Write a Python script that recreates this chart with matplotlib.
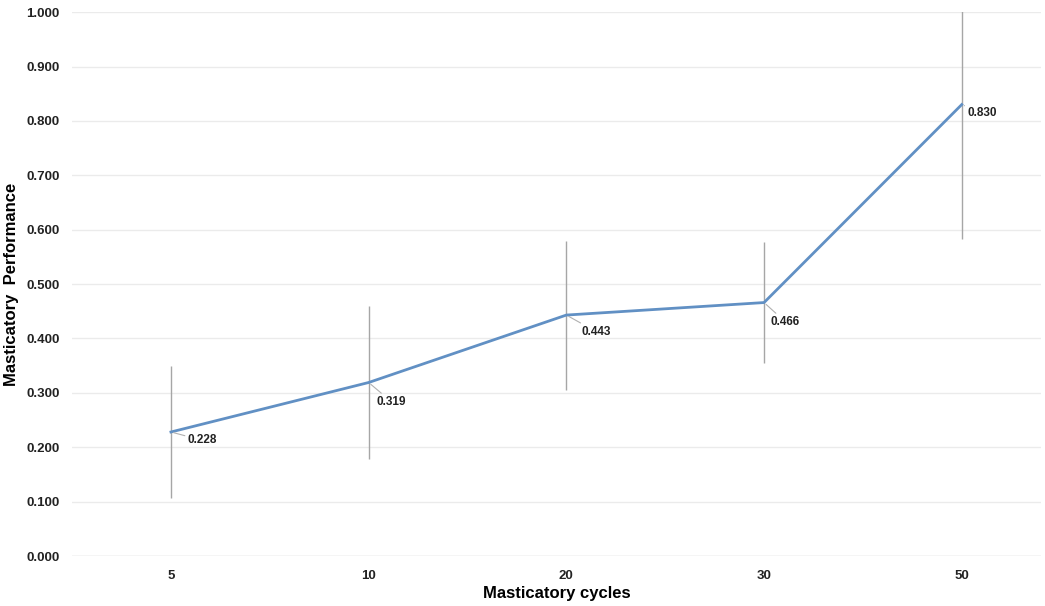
import matplotlib
matplotlib.use("Agg")
import matplotlib.pyplot as plt

plt.rcParams['font.family'] = ['Liberation Sans', 'DejaVu Sans']

categories = ["5", "10", "20", "30", "50"]
means = [0.228, 0.319, 0.443, 0.466, 0.830]
sd = [0.122, 0.140, 0.137, 0.111, 0.247]
label_offsets = [(12, -6), (6, -14), (11, -12), (5, -14), (4, -6)]

fig = plt.figure(figsize=(10.45, 6.06), dpi=100)
ax = fig.add_axes([0.069, 0.0825, 0.927, 0.8975])

x = list(range(len(categories)))
ax.errorbar(x, means, yerr=sd, fmt='none', ecolor='#a6a6a6', elinewidth=1.0, capsize=0, zorder=2)
ax.plot(x, means, color='#6190C4', linewidth=2.0, zorder=3)

for xi, m, off in zip(x, means, label_offsets):
    ax.annotate(f"{m:.3f}", xy=(xi, m), xytext=off, textcoords='offset points',
                fontsize=8.5, fontweight='bold', color='#222222', ha='left', va='center',
                arrowprops=dict(arrowstyle='-', color='#b0b0b0', lw=0.8, shrinkA=0, shrinkB=2))

ax.set_ylim(0, 1.0)
ax.set_xlim(-0.5, 4.4)
ax.set_yticks([i / 10 for i in range(11)])
ax.set_yticklabels([f"{i/10:.3f}" for i in range(11)], fontsize=9.5, fontweight='bold', color='#222222')
ax.set_xticks(x)
ax.set_xticklabels(categories, fontsize=9.5, fontweight='bold', color='#222222')
ax.tick_params(length=0)
ax.tick_params(axis='y', pad=9)
ax.tick_params(axis='x', pad=10)
ax.grid(axis='y', color='#ebebeb', linewidth=1.0, zorder=0)
ax.set_axisbelow(True)
for s in ax.spines.values():
    s.set_visible(False)
ax.axhline(0, color='#e0e0e0', linewidth=1.0, zorder=1)

ax.set_xlabel("Masticatory cycles", fontsize=12, fontweight='bold', labelpad=3)
ax.set_ylabel("Masticatory  Performance", fontsize=12, fontweight='bold', labelpad=5)

fig.savefig("out.png", dpi=100)
